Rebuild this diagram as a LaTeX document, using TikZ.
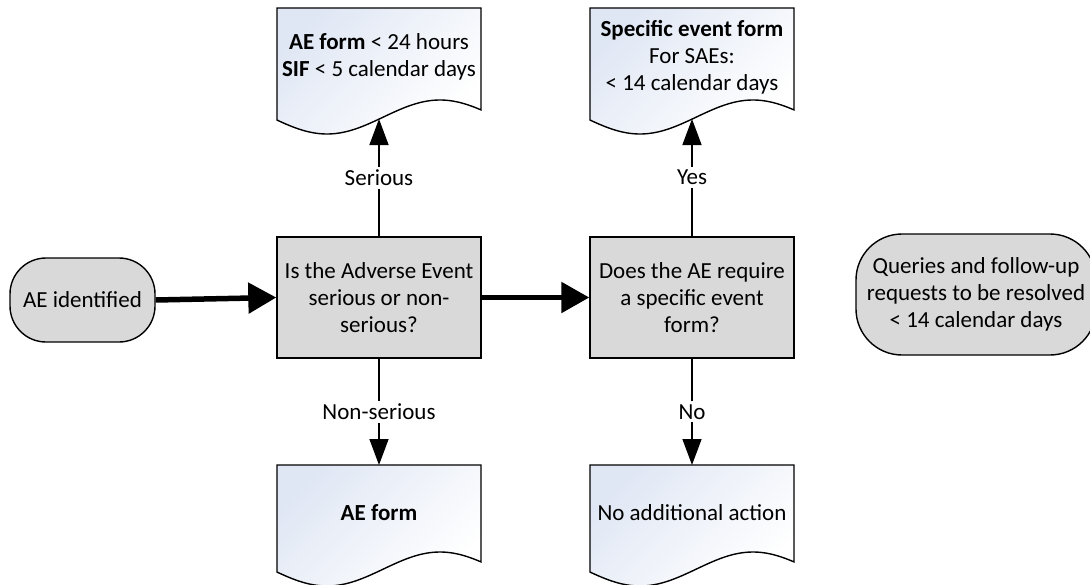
\documentclass[tikz,border=0pt]{standalone}
\usepackage{fontspec}
\setmainfont{Carlito}
\usetikzlibrary{arrows.meta}
\definecolor{boxgray}{HTML}{D9D9D9}
\definecolor{docblue}{HTML}{E0E7F4}
\tikzset{
  base/.style={font=\fontsize{23}{27}\selectfont, align=center, text=black},
  decision/.style={base, draw, line width=1.4pt, fill=boxgray, minimum width=204pt, minimum height=121pt, inner sep=0pt},
  terminal/.style={base, draw, line width=1.4pt, fill=boxgray, inner sep=0pt},
  flowthin/.style={line width=1.5pt, -{Triangle[length=26pt,width=19pt]}},
  flowthick/.style={line width=5.5pt, -{Triangle[length=28pt,width=30pt]}},
  lbl/.style={base, fill=white, inner sep=3pt},
  docshape/.style={draw, line width=1.4pt, top color=docblue, bottom color=white, shading angle=45},
}
\newcommand\docpath[3]{%
  \path[docshape] (#1,#2) -- ({#1+204},#2) -- plot[domain=204:0,samples=80] ({#1+\x},{#3+17*cos((\x-50)*1.593)}) -- cycle;}
\begin{document}
\begin{tikzpicture}[x=1pt,y=-1pt]
\useasboundingbox (0,0) rectangle (1090,584);
\begin{scope}
\clip (0,0) rectangle (1090,584);
\fill[white] (0,0) rectangle (1090,584);
% documents
\docpath{277}{8}{117}
\docpath{590}{8}{117}
\docpath{277}{465}{569}
\docpath{590}{465}{569}
\node[base] (d1) at (379,57) {\textbf{AE form} < 24 hours\\\textbf{SIF} < 5 calendar days};
\node[base] (d2) at (692,57) {\textbf{Specific event form}\\For SAEs:\\< 14 calendar days};
\node[base] (d3) at (379,513) {\textbf{AE form}};
\node[base] (d4) at (692,513) {No additional action};
\coordinate (d1b) at (379,119);
\coordinate (d2b) at (692,119);
\coordinate (d3t) at (379,465);
\coordinate (d4t) at (692,465);
% process nodes
\node[terminal, minimum width=145pt, minimum height=84pt, rounded corners=36pt] (ae) at (82.5,300) {AE identified};
\node[decision] (q1) at (379,297.5) {Is the Adverse Event\\serious or non-\\serious?};
\node[decision] (q2) at (692,297.5) {Does the AE require\\a specific event\\form?};
\node[terminal, minimum width=240pt, minimum height=121pt, rounded corners=46pt] (qr) at (976,294.5) {Queries and follow-up\\requests to be resolved\\< 14 calendar days};
% connectors
\draw[flowthick] (ae.east) -- (q1.west);
\draw[flowthick] (q1.east) -- (q2.west);
\draw[flowthin] (q1.north) -- node[lbl] {Serious} (d1b);
\draw[flowthin] (q2.north) -- node[lbl] {Yes} (d2b);
\draw[flowthin] (q1.south) -- node[lbl] {Non-serious} (d3t);
\draw[flowthin] (q2.south) -- node[lbl] {No} (d4t);
\end{scope}
\end{tikzpicture}
\end{document}
